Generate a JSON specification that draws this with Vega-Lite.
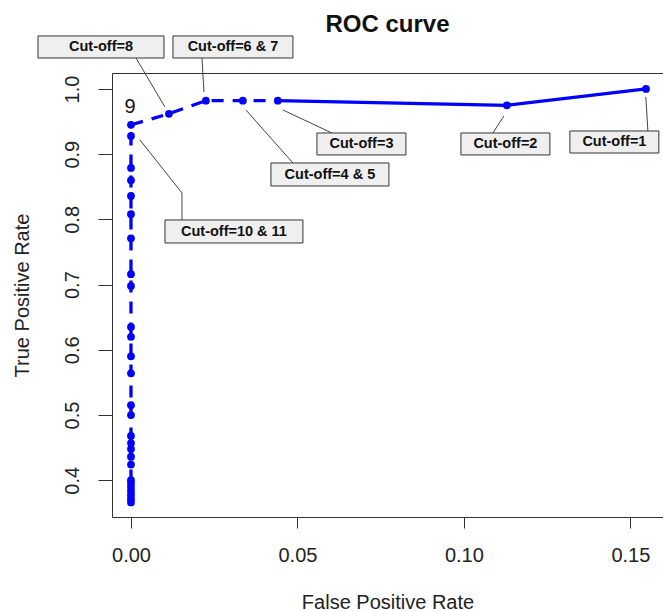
{
  "$schema": "https://vega.github.io/schema/vega-lite/v6.json",
  "width": 551,
  "height": 444,
  "autosize": {"type": "none"},
  "padding": {"left": 112, "top": 73, "right": 0, "bottom": 94},
  "background": "white",
  "config": {
    "view": {"stroke": "#333333", "strokeWidth": 1},
    "font": "Liberation Sans"
  },
  "title": {
    "text": "ROC curve",
    "fontSize": 24,
    "fontWeight": "bold",
    "font": "Liberation Sans",
    "color": "#111111",
    "anchor": "middle",
    "frame": "group",
    "offset": -2
  },
  "datasets": {
    "roc": [
      {"i": 1, "fpr": 0, "tpr": 0.366},
      {"i": 2, "fpr": 0, "tpr": 0.371},
      {"i": 3, "fpr": 0, "tpr": 0.377},
      {"i": 4, "fpr": 0, "tpr": 0.383},
      {"i": 5, "fpr": 0, "tpr": 0.389},
      {"i": 6, "fpr": 0, "tpr": 0.395},
      {"i": 7, "fpr": 0, "tpr": 0.400},
      {"i": 8, "fpr": 0, "tpr": 0.424},
      {"i": 9, "fpr": 0, "tpr": 0.436},
      {"i": 10, "fpr": 0, "tpr": 0.448},
      {"i": 11, "fpr": 0, "tpr": 0.457},
      {"i": 12, "fpr": 0, "tpr": 0.468},
      {"i": 13, "fpr": 0, "tpr": 0.500},
      {"i": 14, "fpr": 0, "tpr": 0.515},
      {"i": 15, "fpr": 0, "tpr": 0.564},
      {"i": 16, "fpr": 0, "tpr": 0.590},
      {"i": 17, "fpr": 0, "tpr": 0.620},
      {"i": 18, "fpr": 0, "tpr": 0.635},
      {"i": 19, "fpr": 0, "tpr": 0.698},
      {"i": 20, "fpr": 0, "tpr": 0.716},
      {"i": 21, "fpr": 0, "tpr": 0.771},
      {"i": 22, "fpr": 0, "tpr": 0.808},
      {"i": 23, "fpr": 0, "tpr": 0.836},
      {"i": 24, "fpr": 0, "tpr": 0.860},
      {"i": 25, "fpr": 0, "tpr": 0.879},
      {"i": 26, "fpr": 0, "tpr": 0.928},
      {"i": 27, "fpr": 0, "tpr": 0.945},
      {"i": 28, "fpr": 0.0114, "tpr": 0.962},
      {"i": 29, "fpr": 0.0225, "tpr": 0.982},
      {"i": 30, "fpr": 0.0336, "tpr": 0.982},
      {"i": 31, "fpr": 0.0441, "tpr": 0.982},
      {"i": 32, "fpr": 0.1129, "tpr": 0.975},
      {"i": 33, "fpr": 0.1547, "tpr": 1.0}
    ],
    "boxes": [
      {"label": "Cut-off=8", "x1": -0.02793, "x2": 0.00991, "y1": 1.0813, "y2": 1.0475, "tx": -0.0090, "ty": 1.0644},
      {"label": "Cut-off=6 & 7", "x1": 0.01261, "x2": 0.04865, "y1": 1.0813, "y2": 1.0475, "tx": 0.03063, "ty": 1.0644},
      {"label": "Cut-off=4 & 5", "x1": 0.04204, "x2": 0.07748, "y1": 0.8865, "y2": 0.8512, "tx": 0.05976, "ty": 0.8688},
      {"label": "Cut-off=3", "x1": 0.05586, "x2": 0.08258, "y1": 0.9325, "y2": 0.8988, "tx": 0.06922, "ty": 0.9156},
      {"label": "Cut-off=2", "x1": 0.09910, "x2": 0.12583, "y1": 0.9325, "y2": 0.8988, "tx": 0.11246, "ty": 0.9156},
      {"label": "Cut-off=1", "x1": 0.13183, "x2": 0.15856, "y1": 0.9356, "y2": 0.9018, "tx": 0.14520, "ty": 0.9187},
      {"label": "Cut-off=10 & 11", "x1": 0.01021, "x2": 0.05165, "y1": 0.7991, "y2": 0.7638, "tx": 0.03093, "ty": 0.7814}
    ],
    "leaders": [
      {"id": "8", "k": 1, "x": 0.0015, "y": 1.0475},
      {"id": "8", "k": 2, "x": 0.0102, "y": 0.9724},
      {"id": "67", "k": 1, "x": 0.02132, "y": 1.0475},
      {"id": "67", "k": 2, "x": 0.02192, "y": 0.9954},
      {"id": "45", "k": 1, "x": 0.04865, "y": 0.8865},
      {"id": "45", "k": 2, "x": 0.03453, "y": 0.9678},
      {"id": "3", "k": 1, "x": 0.06036, "y": 0.9325},
      {"id": "3", "k": 2, "x": 0.04565, "y": 0.9678},
      {"id": "2", "k": 1, "x": 0.10871, "y": 0.9325},
      {"id": "2", "k": 2, "x": 0.11201, "y": 0.9586},
      {"id": "1", "k": 1, "x": 0.15526, "y": 0.9356},
      {"id": "1", "k": 2, "x": 0.15465, "y": 0.9877},
      {"id": "1011", "k": 1, "x": 0.0027, "y": 0.9218},
      {"id": "1011", "k": 2, "x": 0.01532, "y": 0.8405},
      {"id": "1011", "k": 3, "x": 0.01532, "y": 0.7991}
    ],
    "notes": [
      {"text": "9", "x": -0.0003, "y": 0.973}
    ]
  },
  "layer": [
    {
      "data": {"name": "roc"},
      "transform": [{"filter": "datum.fpr <= 0.0442"}],
      "mark": {"type": "line", "color": "#0000ff", "strokeWidth": 3.3, "strokeDash": [12, 9]},
      "encoding": {
        "x": {
          "field": "fpr", "type": "quantitative",
          "scale": {"domain": [-0.0057, 0.1598], "nice": false, "zero": false},
          "axis": {
            "values": [0, 0.05, 0.1, 0.15], "format": ".2f",
            "title": "False Positive Rate",
            "domain": false, "grid": false,
            "tickSize": 11, "tickColor": "#333333", "tickWidth": 1,
            "labelFontSize": 20, "labelColor": "#222222", "labelPadding": 17,
            "labelFont": "Liberation Sans",
            "titleFontSize": 20, "titleFontWeight": "normal", "titleColor": "#222222",
            "titleFont": "Liberation Sans", "titlePadding": 27
          }
        },
        "y": {
          "field": "tpr", "type": "quantitative",
          "scale": {"domain": [0.3436, 1.0245], "nice": false, "zero": false},
          "axis": {
            "values": [0.4, 0.5, 0.6, 0.7, 0.8, 0.9, 1.0], "format": ".1f",
            "title": "True Positive Rate",
            "domain": false, "grid": false,
            "tickSize": 14, "tickColor": "#333333", "tickWidth": 1,
            "labelAngle": -90, "labelFontSize": 20, "labelColor": "#222222", "labelPadding": 16,
            "labelFont": "Liberation Sans",
            "titleFontSize": 20, "titleFontWeight": "normal", "titleColor": "#222222",
            "titleFont": "Liberation Sans", "titlePadding": 30
          }
        },
        "order": {"field": "i", "type": "quantitative"}
      }
    },
    {
      "data": {"name": "roc"},
      "transform": [{"filter": "datum.fpr >= 0.0440"}],
      "mark": {"type": "line", "color": "#0000ff", "strokeWidth": 3.3},
      "encoding": {
        "x": {"field": "fpr", "type": "quantitative"},
        "y": {"field": "tpr", "type": "quantitative"},
        "order": {"field": "i", "type": "quantitative"}
      }
    },
    {
      "data": {"name": "roc"},
      "mark": {"type": "circle", "color": "#0000ff", "opacity": 1, "size": 60},
      "encoding": {
        "x": {"field": "fpr", "type": "quantitative"},
        "y": {"field": "tpr", "type": "quantitative"}
      }
    },
    {
      "data": {"name": "leaders"},
      "mark": {"type": "line", "color": "#444444", "strokeWidth": 1},
      "encoding": {
        "x": {"field": "x", "type": "quantitative"},
        "y": {"field": "y", "type": "quantitative"},
        "detail": {"field": "id"},
        "order": {"field": "k", "type": "quantitative"}
      }
    },
    {
      "data": {"name": "boxes"},
      "mark": {"type": "rect", "fill": "#efefef", "stroke": "#333333", "strokeWidth": 1},
      "encoding": {
        "x": {"field": "x1", "type": "quantitative"},
        "x2": {"field": "x2"},
        "y": {"field": "y1", "type": "quantitative"},
        "y2": {"field": "y2"}
      }
    },
    {
      "data": {"name": "boxes"},
      "mark": {"type": "text", "font": "Liberation Sans", "fontWeight": "bold", "fontSize": 14.5, "color": "#111111", "align": "center", "baseline": "middle"},
      "encoding": {
        "x": {"field": "tx", "type": "quantitative"},
        "y": {"field": "ty", "type": "quantitative"},
        "text": {"field": "label"}
      }
    },
    {
      "data": {"name": "notes"},
      "mark": {"type": "text", "font": "Liberation Sans", "fontSize": 20, "color": "#111111", "align": "center", "baseline": "middle"},
      "encoding": {
        "x": {"field": "x", "type": "quantitative"},
        "y": {"field": "y", "type": "quantitative"},
        "text": {"field": "text"}
      }
    }
  ]
}
